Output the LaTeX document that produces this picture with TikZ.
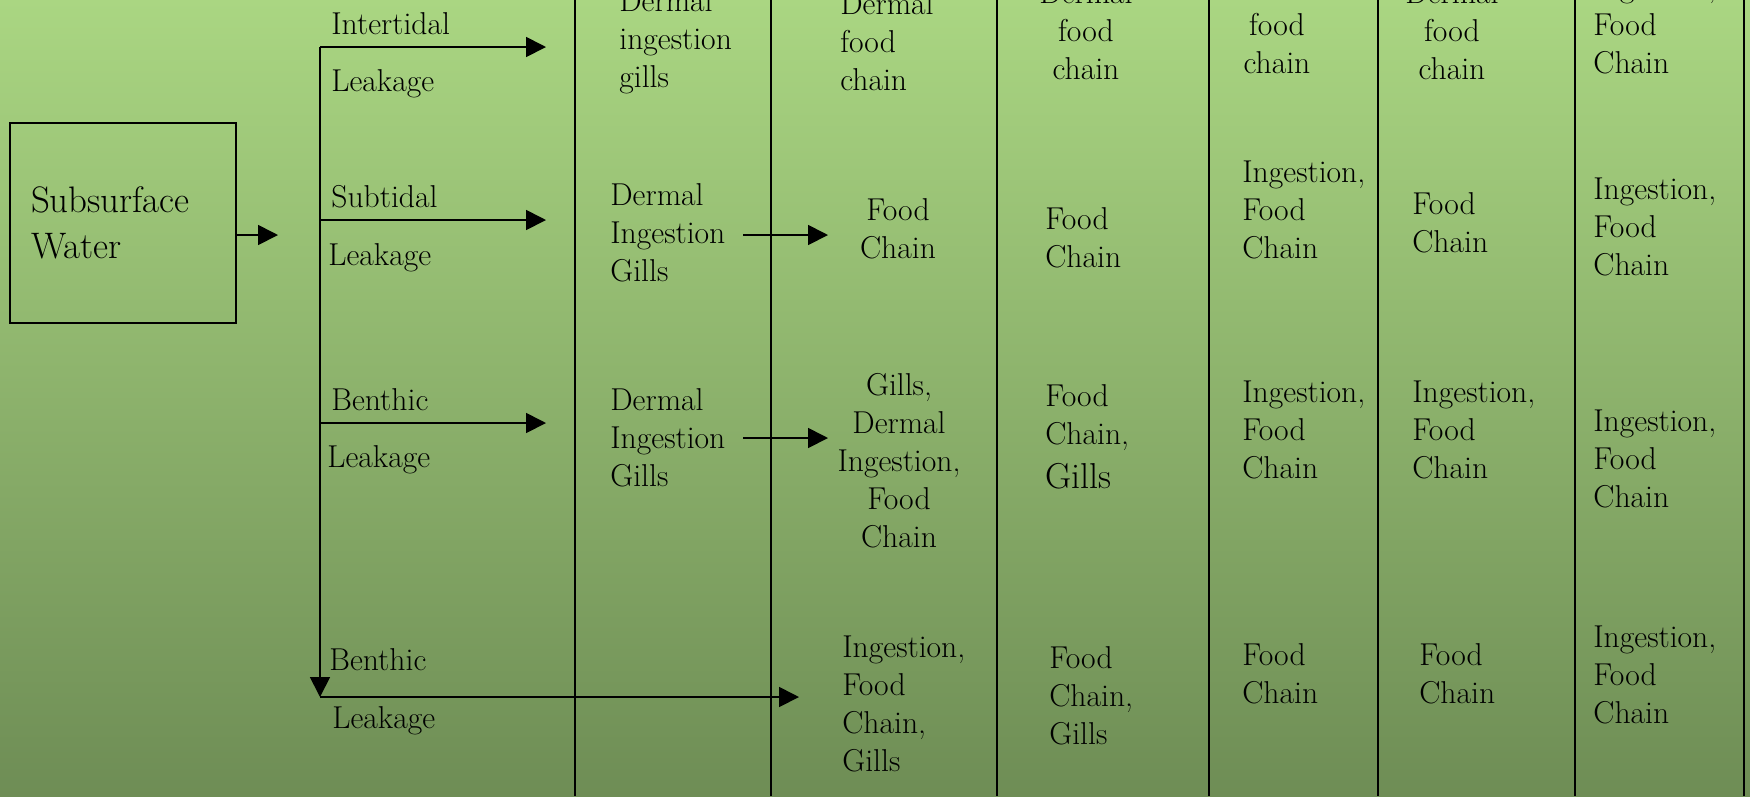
\documentclass[tikz,border=0pt]{standalone}
\usepackage{tikz}
\usetikzlibrary{arrows.meta}
\usepackage{xcolor}
\definecolor{bgtop}{RGB}{170,214,130}
\definecolor{bgbot}{RGB}{110,141,85}

% multi-line labels: base anchor sits on the last line
\tikzset{
  lbl/.style={inner sep=0pt, font=\fontsize{18}{21.6}\selectfont, align=left, anchor=base west},
  clbl/.style={lbl, align=center, anchor=base},
  flow/.style={-{Triangle[length=0.4cm,width=0.4cm]}, line width=1pt},
  sep/.style={line width=1pt}
}

\begin{document}
\begin{tikzpicture}[x=0.02cm, y=-0.02cm]
  \clip (0,0) rectangle (1750,796);
  \shade[top color=bgtop, bottom color=bgbot] (0,0) rectangle (1750,796);

  % column lines
  \foreach \cx in {575,771,997,1209,1378,1575,1744}
    \draw[sep] (\cx,0) -- (\cx,796);

  % source
  \node[draw, line width=1pt, minimum width=4.52cm, minimum height=4cm, inner xsep=0.42cm,
        text width=3.68cm, align=left, font=\fontsize{21}{26}\selectfont] (src) at (123,223) {Subsurface\\Water};
  \coordinate (srctip) at (278,235);
  \draw[flow] ([yshift=-0.24cm]src.east) -- (srctip);

  % trunk and branches
  \coordinate (t1) at (320,47);
  \coordinate (t2) at (320,220);
  \coordinate (t3) at (320,423);
  \coordinate (t4) at (320,697);
  \coordinate (h1) at (546,47);
  \coordinate (h2) at (546,220);
  \coordinate (h3) at (546,423);
  \coordinate (h4) at (799,697);
  \draw[flow] (t1) -- (t4);
  \draw[flow] (t1) -- (h1);
  \draw[flow] (t2) -- (h2);
  \draw[flow] (t3) -- (h3);
  \draw[flow] (t4) -- (h4);

  \node[lbl] (it) at (331,34) {Intertidal};
  \node[lbl] (itl) at (331,91) {Leakage};
  \node[lbl] (st) at (331,207) {Subtidal};
  \node[lbl] (stl) at (328,265) {Leakage};
  \node[lbl] (bt) at (331,410) {Benthic};
  \node[lbl] (btl) at (327,467) {Leakage};
  \node[lbl] (bb) at (329,670) {Benthic};
  \node[lbl] (bbl) at (332,728) {Leakage};

  % column 2
  \node[lbl] (c2r1) at (619,87) {Dermal\\ingestion\\gills};
  \node[lbl] (c2r2) at (610,281) {Dermal\\Ingestion\\Gills};
  \node[lbl] (c2r3) at (610,486) {Dermal\\Ingestion\\Gills};
  \coordinate (a2s) at (743,235);
  \coordinate (a2e) at (828,235);
  \coordinate (a3s) at (743,438);
  \coordinate (a3e) at (828,438);
  \draw[flow] (a2s) -- (a2e);
  \draw[flow] (a3s) -- (a3e);

  % column 3
  \node[lbl] (c3r1) at (840,90) {Dermal\\food\\chain};
  \node[clbl] (c3r2) at (898,258) {Food\\Chain};
  \node[clbl] (c3r3) at (899,547) {Gills,\\Dermal\\Ingestion,\\Food\\Chain};
  \node[lbl] (c3r4) at (842,771) {Ingestion,\\Food\\Chain,\\Gills};

  % column 4
  \node[clbl] (c4r1) at (1086,79) {Dermal\\food\\chain};
  \node[lbl] (c4r2) at (1045,267) {Food\\Chain};
  \node[lbl] (c4r3) at (1045,488) {Food\\Chain,\\[3pt]{\fontsize{20.5}{22}\selectfont Gills}};
  \node[lbl] (c4r4) at (1049,744) {Food\\Chain,\\Gills};

  % column 5
  \node[clbl] (c5r1) at (1277,73) {food\\chain};
  \node[lbl] (c5r2) at (1242,258) {Ingestion,\\Food\\Chain};
  \node[lbl] (c5r3) at (1242,478) {Ingestion,\\Food\\Chain};
  \node[lbl] (c5r4) at (1242,703) {Food\\Chain};

  % column 6
  \node[clbl] (c6r1) at (1452,79) {Dermal\\food\\chain};
  \node[lbl] (c6r2) at (1412,252) {Food\\Chain};
  \node[lbl] (c6r3) at (1412,478) {Ingestion,\\Food\\Chain};
  \node[lbl] (c6r4) at (1419,703) {Food\\Chain};

  % column 7
  \node[lbl] (c7r1) at (1593,73) {Ingestion,\\Food\\Chain};
  \node[lbl] (c7r2) at (1593,275) {Ingestion,\\Food\\Chain};
  \node[lbl] (c7r3) at (1593,507) {Ingestion,\\Food\\Chain};
  \node[lbl] (c7r4) at (1593,723) {Ingestion,\\Food\\Chain};
\end{tikzpicture}
\end{document}
